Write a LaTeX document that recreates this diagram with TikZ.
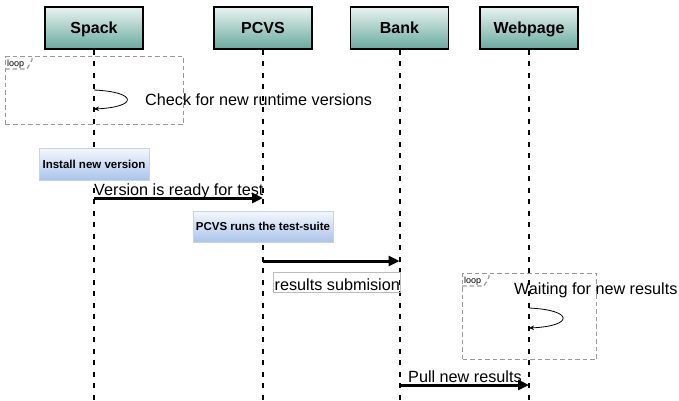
\documentclass[tikz,border=0pt]{standalone}
\usepackage{fontspec}
\setmainfont{Liberation Sans}
\usetikzlibrary{arrows.meta}
\definecolor{hdtop}{HTML}{E8F3F0}
\definecolor{hdbot}{HTML}{67AB9F}
\definecolor{actop}{HTML}{F5F8FD}
\definecolor{acbot}{HTML}{A9C4EB}
\definecolor{acbrd}{HTML}{C8D3E3}
\definecolor{frm}{HTML}{999999}
\definecolor{resbrd}{HTML}{BDBDBD}
\begin{document}
\begin{tikzpicture}[x=1pt,y=-1pt,
  header/.style={draw=black, line width=1.5pt, top color=hdtop, bottom color=hdbot,
    minimum width=98pt, minimum height=42pt, inner sep=0pt, text height=11.5pt, text depth=0pt,
    font=\bfseries\fontsize{16}{19}\selectfont},
  lifeline/.style={line width=2pt, dash pattern=on 5pt off 6.5pt},
  msg/.style={line width=3pt, -{Triangle[length=11pt,width=10pt]}},
  msgtext/.style={anchor=base west, inner sep=0pt, font=\fontsize{16.2}{19}\selectfont},
  activity/.style={draw=acbrd, line width=0.8pt, top color=actop, bottom color=acbot,
    inner sep=0pt, font=\bfseries\fontsize{11.5}{14}\selectfont},
  umlframe/.style={draw=frm, line width=1.2pt, dash pattern=on 4.5pt off 3pt},
  framelabel/.style={anchor=base west, inner sep=0pt, font=\fontsize{9}{10}\selectfont},
  selfmsg/.style={line width=0.8pt, -{Stealth[length=5pt,width=4.5pt]}}
]
\useasboundingbox (0,0) rectangle (679,400);

% loop frames
\node[umlframe, minimum width=178pt, minimum height=68pt, inner sep=0pt, anchor=north west] (loopA) at (5,56) {};
\draw[umlframe] (loopA.north west) ++(0,13) -- ++(22,0) -- ++(5,-9) -- ++(0,-4);
\node[framelabel] (loopAlbl) at (7,66) {loop};

\node[umlframe, minimum width=134pt, minimum height=86pt, inner sep=0pt, anchor=north west] (loopB) at (462,273) {};
\draw[umlframe] (loopB.north west) ++(0,13) -- ++(22,0) -- ++(5,-9) -- ++(0,-4);
\node[framelabel] (loopBlbl) at (464,283) {loop};

% headers
\node[header] (spack) at (94,28) {Spack};
\node[header] (pcvs) at (263,28) {PCVS};
\node[header] (bank) at (399.5,28) {Bank};
\node[header] (web) at (529,28) {Webpage};

\coordinate (spackEnd) at (94,400);
\coordinate (pcvsEnd) at (263,400);
\coordinate (bankEnd) at (399.5,400);
\coordinate (webEnd) at (529,400);

% lifelines
\draw[lifeline] (spack.south) -- (spackEnd);
\draw[lifeline] (pcvs.south) -- (pcvsEnd);
\draw[lifeline] (bank.south) -- (bankEnd);
\draw[lifeline] (web.south) -- (webEnd);

% self message on Spack
\coordinate (s1a) at (94,90);
\coordinate (s1b) at (94,109);
\draw[selfmsg] (s1a) .. controls (138,92) and (138,107) .. (s1b);
\node[msgtext] (checktxt) at (145,105) {Check for new runtime versions};

% activities
\node[activity, minimum width=110pt, minimum height=32pt] (install) at (94,164) {Install new version};
\node[activity, minimum width=140pt, minimum height=31pt] (runs) at (263,226.5) {PCVS runs the test-suite};

% message 1
\coordinate (m1a) at (94,198);
\coordinate (m1b) at (263,198);
\draw[msg] (m1a) -- (m1b);
\node[msgtext] (m1txt) at (94,195) {Version is ready for test};

% message 2
\coordinate (m2a) at (263,261);
\coordinate (m2b) at (399.5,261);
\draw[msg] (m2a) -- (m2b);
\node[draw=resbrd, line width=0.8pt, minimum width=127pt, minimum height=20pt, inner sep=0pt, anchor=north west] (resbox) at (273,272) {};
\node[msgtext] (restxt) at (274.5,290) {results submision};

% self message on Webpage
\coordinate (s2a) at (529,308);
\coordinate (s2b) at (529,328);
\draw[selfmsg] (s2a) .. controls (574,310) and (574,326) .. (s2b);
\node[msgtext] (waittxt) at (514,294.5) {Waiting for new results};

% message 3
\coordinate (m3a) at (399.5,385);
\coordinate (m3b) at (529,385);
\draw[msg] (m3a) -- (m3b);
\node[msgtext] (m3txt) at (408,382) {Pull new results};
\end{tikzpicture}
\end{document}
